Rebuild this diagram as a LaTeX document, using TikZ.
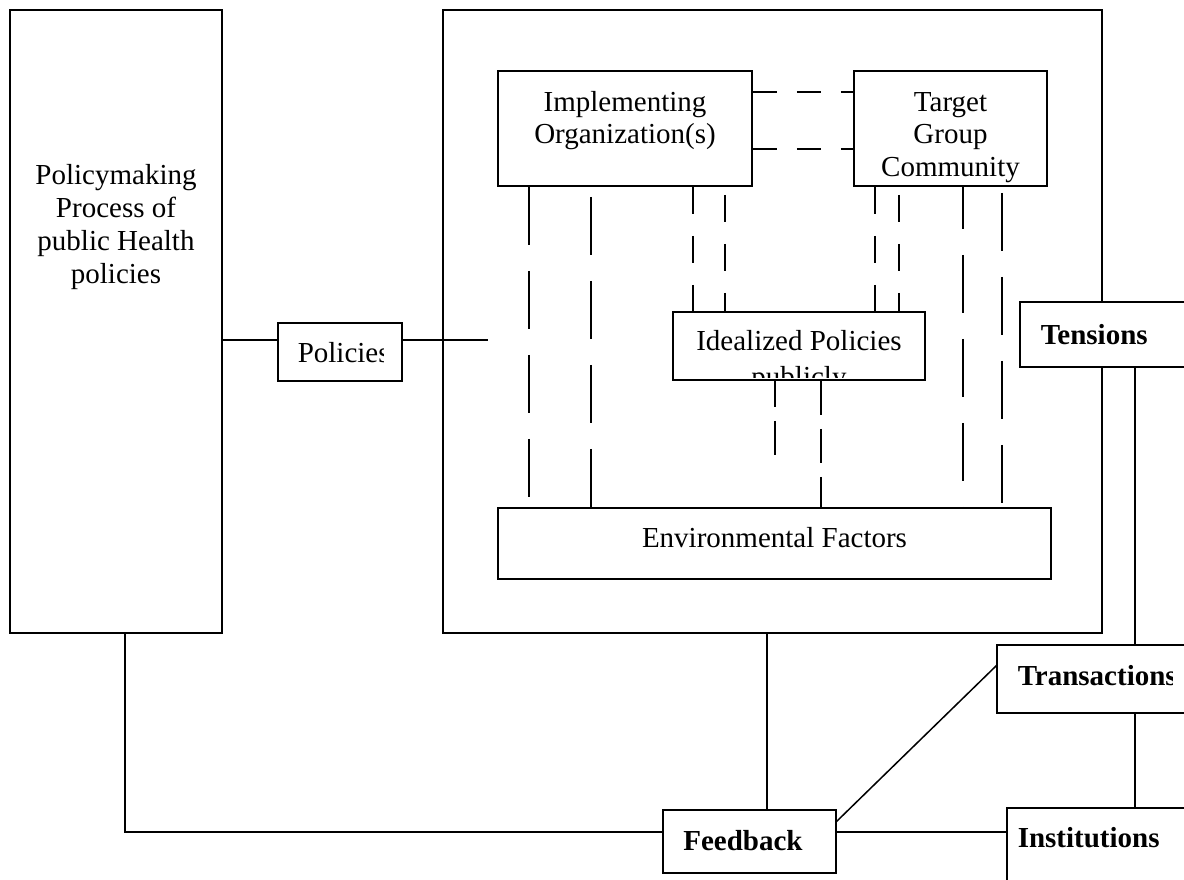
\documentclass[tikz,border=0pt]{standalone}
\usepackage{fontspec}
\setmainfont{Liberation Serif}
\begin{document}
\begin{tikzpicture}[x=1pt,y=-1pt,line width=1.5pt,
  box/.style={draw,fill=white,rectangle,inner sep=0pt},
  txt/.style={font=\fontsize{29}{33}\selectfont,inner sep=0pt,anchor=base},
  btxt/.style={font=\fontsize{29}{33}\selectfont\bfseries,inner sep=0pt,anchor=base west},
  ldash/.style={dash pattern=on 58pt off 26pt},
  sdash/.style={dash pattern=on 27pt off 22pt},
  mdash/.style={dash pattern=on 34pt off 14pt},
  hdash/.style={dash pattern=on 24pt off 20pt}]
\useasboundingbox (0,0) rectangle (1184,879);

% boxes
\node[box,minimum width=212pt,minimum height=623pt] (pol) at (116,321.5) {};
\node[box,minimum width=659pt,minimum height=623pt] (outer) at (772.5,321.5) {};
\node[box,minimum width=124pt,minimum height=58pt] (plc) at (340,352) {};
\node[box,minimum width=254pt,minimum height=115pt] (imp) at (625,128.5) {};
\node[box,minimum width=193pt,minimum height=115pt] (tgt) at (950.5,128.5) {};
\node[box,minimum width=252pt,minimum height=68pt] (ideal) at (799,346) {};
\node[box,minimum width=553pt,minimum height=71pt] (env) at (774.5,543.5) {};
\node[box,minimum width=180pt,minimum height=65pt] (ten) at (1110,334.5) {};
\node[box,minimum width=203pt,minimum height=68pt] (tra) at (1098.5,679) {};
\node[box,minimum width=193pt,minimum height=92pt] (ins) at (1103.5,854) {};
\node[box,minimum width=173pt,minimum height=63pt] (fb) at (749.5,841.5) {};

% texts
\node[txt] (p1) at (116,184) {Policymaking};
\node[txt] (p2) at (116,217) {Process of};
\node[txt] (p3) at (116,250) {public Health};
\node[txt] (p4) at (116,283) {policies};
\node[txt] (i1) at (625,111) {Implementing};
\node[txt] (i2) at (625,143) {Organization(s)};
\begin{scope}
\clip ([yshift=4pt]tgt.south west) rectangle (tgt.north east);
\node[txt] (t1) at (950.5,111) {Target};
\node[txt] (t2) at (950.5,143) {Group};
\node[txt] (t3) at (950.5,176) {Community};
\end{scope}
\begin{scope}
\clip ([yshift=3pt]ideal.south west) rectangle (ideal.north east);
\node[txt] (d1) at (799,350) {Idealized Policies};
\node[txt] (d2) at (799,386) {publicly};
\end{scope}
\begin{scope}
\clip (plc.south west) rectangle ([xshift=-19pt]plc.north east);
\node[txt,anchor=base west] (pl) at (297,362) {Policies};
\end{scope}
\node[txt] (e1) at (774.5,547) {Environmental Factors};
\node[btxt] (tn) at (1040,344) {Tensions};
\begin{scope}
\clip (tra.south west) rectangle (1172,600);
\node[btxt] (tr) at (1017,685) {Transactions};
\end{scope}
\node[btxt] (in) at (1017,847) {Institutions};
\node[btxt,anchor=base] (fbt) at (743,850) {Feedback};

% helper coordinates
\coordinate (yp) at (0,340);
\coordinate (free) at (488,340);
\coordinate (h1) at (0,92);
\coordinate (h2) at (0,149);
\coordinate (xa) at (529,0);
\coordinate (xb) at (591,0);
\coordinate (xc) at (693,0);
\coordinate (xd) at (725,0);
\coordinate (xe) at (875,0);
\coordinate (xf) at (899,0);
\coordinate (xg) at (963,0);
\coordinate (xh) at (1002,0);
\coordinate (xi) at (821,0);
\coordinate (ifree) at (775,460);
\coordinate (xo) at (767,0);
\coordinate (xr) at (1135,0);
\coordinate (fbc) at (125,832);
\coordinate (fbd) at (836,822);
\coordinate (trd) at (997,665);

% solid connectors
\draw (pol.east |- yp) -- (plc.west |- yp);
\draw (plc.east |- yp) -- (free);
\draw (outer.south -| xo) -- (fb.north -| xo);
\draw (pol.south -| fbc) -- (fbc) -- (fb.west |- fbc);
\draw (fb.east |- fbc) -- (ins.west |- fbc);
\draw (fbd) -- (trd);
\draw (ten.south -| xr) -- (tra.north -| xr);
\draw (tra.south -| xr) -- (ins.north -| xr);

% dashed connectors
\draw[hdash] (imp.east |- h1) -- (tgt.west |- h1);
\draw[hdash,dash phase=0pt] (imp.east |- h2) -- (tgt.west |- h2);
\draw[ldash] (imp.south -| xa) -- (env.north -| xa);
\draw[ldash,dash phase=-10pt] (imp.south -| xb) -- (env.north -| xb);
\draw[sdash] (imp.south -| xc) -- (ideal.north -| xc);
\draw[sdash,dash phase=-8pt] (imp.south -| xd) -- (ideal.north -| xd);
\draw[sdash] (tgt.south -| xe) -- (ideal.north -| xe);
\draw[sdash,dash phase=-8pt] (tgt.south -| xf) -- (ideal.north -| xf);
\draw[ldash,dash phase=16pt] (tgt.south -| xg) -- (env.north -| xg);
\draw[ldash,dash phase=-6pt] (tgt.south -| xh) -- (env.north -| xh);
\draw[mdash,dash phase=8pt] (ideal.south -| ifree) -- (ifree);
\draw[mdash] (ideal.south -| xi) -- (env.north -| xi);
\end{tikzpicture}
\end{document}
